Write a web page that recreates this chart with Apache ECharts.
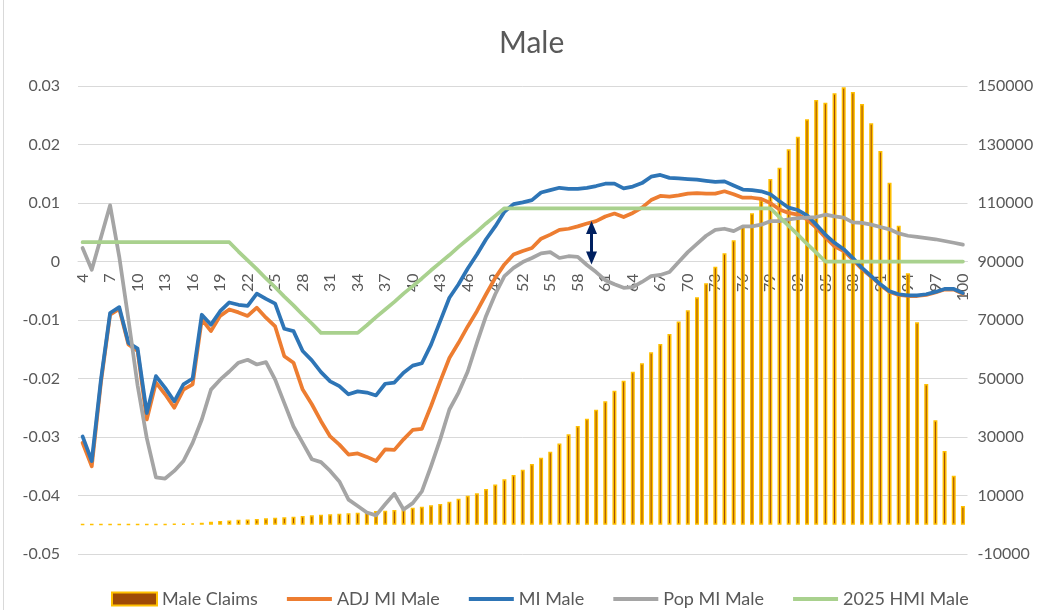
<!DOCTYPE html>
<html>
<head>
<meta charset="utf-8">
<title>Male</title>
<script src="https://cdn.jsdelivr.net/npm/echarts@6/dist/echarts.min.js"></script>
<style>
	html, body { margin: 0; padding: 0; background: #fff; }
	#chart { width: 1055px; height: 610px; }
</style>
</head>
<body>
<div id="chart"></div>
<script>
// ages on the x axis
let ages = [4, 5, 6, 7, 8, 9, 10, 11, 12, 13, 14, 15, 16, 17, 18, 19, 20, 21, 22, 23, 24, 25, 26, 27, 28, 29,
	30, 31, 32, 33, 34, 35, 36, 37, 38, 39, 40, 41, 42, 43, 44, 45, 46, 47, 48, 49, 50, 51, 52, 53, 54, 55,
	56, 57, 58, 59, 60, 61, 62, 63, 64, 65, 66, 67, 68, 69, 70, 71, 72, 73, 74, 75, 76, 77, 78, 79, 80, 81,
	82, 83, 84, 85, 86, 87, 88, 89, 90, 91, 92, 93, 94, 95, 96, 97, 98, 99, 100]

// Male Claims (right axis)
let maleClaims = [150, 150, 150, 150, 150, 150, 150, 150, 200, 250, 300,
	340, 460, 680, 1030, 1260, 1490, 1710, 1830, 1950, 2180, 2400, 2530, 2740, 2970, 3210, 3420, 3560, 3760,
	3900, 4100, 4340, 4680, 4790, 5030, 5260, 5810, 6150, 6630, 7080, 7860, 8900, 9920, 10730, 12200, 13800,
	15520, 17000, 18800, 20750, 22900, 24960, 27800, 30900, 33750, 36250, 39320, 42190, 45820, 49230, 52310,
	55180, 58940, 61780, 65200, 69500, 73300, 77750, 82530, 88200, 92780, 97230, 102230, 106470, 111020,
	118200, 122060, 128340, 132650, 138600, 145200, 144280, 147490, 149540, 147940, 143840, 137240, 127770,
	116930, 102230, 85950, 69200, 48100, 35690, 25200, 16750, 6390]

// ADJ MI Male
let adjMiMale = [-0.0310, -0.0350, -0.0207, -0.0091, -0.0081, -0.0142, -0.0153, -0.0270, -0.0207, -0.0227,
	-0.0250, -0.0219, -0.0210, -0.0099, -0.0119, -0.0093, -0.0082, -0.0087, -0.0093, -0.0079, -0.0096, -0.0111,
	-0.0162, -0.0173, -0.0219, -0.0244, -0.0273, -0.0299, -0.0313, -0.0330, -0.0328, -0.0334, -0.0341, -0.0321,
	-0.0322, -0.0304, -0.0288, -0.0286, -0.0247, -0.0205, -0.0165, -0.0139, -0.0111, -0.0085, -0.0056, -0.0028,
	-0.0005, 0.0012, 0.0018, 0.0023, 0.0039, 0.0046, 0.0054, 0.0056, 0.0060, 0.0065, 0.0069, 0.0077, 0.0082,
	0.0076, 0.0083, 0.0092, 0.0105, 0.0112, 0.0111, 0.0113, 0.0116, 0.0117, 0.0116, 0.0116, 0.0120, 0.0115,
	0.0109, 0.0109, 0.0107, 0.0100, 0.0089, 0.0083, 0.0080, 0.0072, 0.0058, 0.0041, 0.0026, 0.0018, 0.0003,
	-0.0013, -0.0026, -0.0040, -0.0052, -0.0057, -0.0059, -0.0059, -0.0057, -0.0053, -0.0048, -0.0048, -0.0055]

// MI Male
let miMale = [-0.0299, -0.0341, -0.0202, -0.0088, -0.0078, -0.0139, -0.0149, -0.0259, -0.0196, -0.0216,
	-0.0239, -0.0210, -0.0200, -0.0091, -0.0108, -0.0085, -0.0070, -0.0074, -0.0076, -0.0055, -0.0064, -0.0072,
	-0.0115, -0.0119, -0.0153, -0.0169, -0.0189, -0.0205, -0.0213, -0.0227, -0.0222, -0.0224, -0.0229, -0.0209,
	-0.0207, -0.0190, -0.0178, -0.0174, -0.0142, -0.0102, -0.0062, -0.0039, -0.0012, 0.0012, 0.0038, 0.0060,
	0.0085, 0.0098, 0.0101, 0.0105, 0.0118, 0.0122, 0.0126, 0.0124, 0.0124, 0.0126, 0.0129, 0.0133, 0.0133,
	0.0125, 0.0128, 0.0134, 0.0145, 0.0148, 0.0143, 0.0142, 0.0141, 0.0140, 0.0138, 0.0136, 0.0137, 0.0130,
	0.0123, 0.0122, 0.0120, 0.0115, 0.0103, 0.0092, 0.0088, 0.0079, 0.0063, 0.0046, 0.0032, 0.0021, 0.0006,
	-0.0011, -0.0025, -0.0039, -0.0051, -0.0056, -0.0058, -0.0058, -0.0056, -0.0052, -0.0047, -0.0047, -0.0054]

// Pop MI Male
let popMiMale = [0.0023, -0.0014, 0.0041, 0.0096, 0.0008, -0.0099, -0.0212, -0.0302, -0.0369, -0.0371,
	-0.0358, -0.0341, -0.0310, -0.0270, -0.0219, -0.0202, -0.0188, -0.0173, -0.0168, -0.0176, -0.0172, -0.0202,
	-0.0242, -0.0282, -0.0310, -0.0338, -0.0343, -0.0358, -0.0376, -0.0407, -0.0418, -0.0429, -0.0434, -0.0415,
	-0.0397, -0.0424, -0.0413, -0.0393, -0.0350, -0.0304, -0.0253, -0.0224, -0.0188, -0.0139, -0.0093, -0.0056,
	-0.0025, -0.0011, -0.0001, 0.0006, 0.0014, 0.0016, 0.0006, 0.0009, 0.0008, -0.0006, -0.0018, -0.0032,
	-0.0039, -0.0045, -0.0044, -0.0035, -0.0025, -0.0023, -0.0018, -0.0001, 0.0016, 0.0030, 0.0044, 0.0054,
	0.0056, 0.0052, 0.0060, 0.0060, 0.0063, 0.0069, 0.0069, 0.0072, 0.0074, 0.0075, 0.0076, 0.0080, 0.0077,
	0.0075, 0.0067, 0.0066, 0.0063, 0.0059, 0.0055, 0.0048, 0.0044, 0.0042, 0.0040, 0.0038, 0.0035, 0.0032, 0.0029]

// 2025 HMI Male
let hmiMale2025 = [0.0033, 0.0033, 0.0033, 0.0033, 0.0033, 0.0033, 0.0033, 0.0033, 0.0033, 0.0033, 0.0033,
	0.0033, 0.0033, 0.0033, 0.0033, 0.0033, 0.0033, 0.0017, 0.0002, -0.0013, -0.0029, -0.0044, -0.0060, -0.0075,
	-0.0091, -0.0106, -0.0122, -0.0122, -0.0122, -0.0122, -0.0122, -0.0109, -0.0095, -0.0082, -0.0069, -0.0055,
	-0.0042, -0.0029, -0.0015, -0.0002, 0.0011, 0.0025, 0.0038, 0.0051, 0.0065, 0.0078, 0.0091, 0.0091, 0.0091,
	0.0091, 0.0091, 0.0091, 0.0091, 0.0091, 0.0091, 0.0091, 0.0091, 0.0091, 0.0091, 0.0091, 0.0091, 0.0091,
	0.0091, 0.0091, 0.0091, 0.0091, 0.0091, 0.0091, 0.0091, 0.0091, 0.0091, 0.0091, 0.0091, 0.0091, 0.0091,
	0.0091, 0.0076, 0.0061, 0.0046, 0.0030, 0.0015, 0, 0, 0, 0, 0, 0, 0, 0, 0, 0, 0, 0, 0, 0, 0, 0]

// gap marker between ADJ MI and Pop MI
let arrowAge = [59.5]
let arrowEnds = [0.0058, 0.0006]

let leftTicks = { min: -0.05, max: 0.03, interval: 0.01 }
let rightTicks = { min: -10000, max: 150000, interval: 20000 }

let font = 'Lato'
let textColor = '#595959'
let gridColor = '#d9d9d9'

let gridTop = 86
let gridBottom = 56
let plotHeight = 610 - gridTop - gridBottom
// category labels hang from the zero line of the left axis
let zeroOffset = plotHeight * (0 - leftTicks.min) / (leftTicks.max - leftTicks.min)

// legend icon for the lines: a 4px stroke in a 45x13 box
let lineIcon = 'path://M0,0 L0.01,0 Z M0,4.5 L45,4.5 L45,8.5 L0,8.5 Z M0,13 L0.01,13 Z'

let lineSeries = (name, data, color) => {
	return {
		name: name,
		type: 'line',
		data: data,
		symbol: 'none',
		showSymbol: false,
		lineStyle: { color: color, width: 3.75, cap: 'round', join: 'round' },
		itemStyle: { color: color },
		xAxisIndex: 0,
		yAxisIndex: 0
	}
}

let chart = echarts.init(document.getElementById('chart'), null, { renderer: 'canvas' })

let opt = {
	backgroundColor: '#fff',
	animation: false,
	textStyle: { fontFamily: font },
	title: {
		text: 'Male',
		left: 494,
		top: 23,
		textStyle: { fontFamily: font, fontSize: 30, fontWeight: 'normal', color: textColor }
	},
	legend: {
		top: 585,
		left: 106,
		itemWidth: 45,
		itemHeight: 13,
		itemGap: 29,
		textStyle: { fontFamily: font, fontSize: 18, color: textColor },
		data: [
			{ name: 'Male Claims', icon: 'rect' },
			{ name: 'ADJ MI Male', icon: lineIcon },
			{ name: 'MI Male', icon: lineIcon },
			{ name: 'Pop MI Male', icon: lineIcon },
			{ name: '2025 HMI Male', icon: lineIcon }
		]
	},
	grid: {
		left: 78,
		right: 87.5,
		top: gridTop,
		bottom: gridBottom,
		containLabel: false
	},
	xAxis: [
		{
			type: 'category',
			data: ages,
			boundaryGap: true,
			position: 'bottom',
			offset: -zeroOffset,
			axisLine: { show: true, onZero: false, lineStyle: { color: gridColor, width: 1 } },
			axisTick: { show: false },
			axisLabel: {
				interval: 2,
				rotate: 90,
				margin: 12,
				fontFamily: font,
				fontSize: 16,
				color: textColor
			},
			splitLine: { show: false }
		},
		{
			type: 'value',
			min: 3.5,
			max: 100.5,
			show: false
		}
	],
	yAxis: [
		{
			type: 'value',
			min: leftTicks.min,
			max: leftTicks.max,
			interval: leftTicks.interval,
			axisLine: { show: false },
			axisTick: { show: false },
			axisLabel: {
				margin: 18,
				fontFamily: font,
				fontSize: 16,
				color: textColor,
				formatter: (v) => String(Math.round(v * 100) / 100)
			},
			splitLine: { show: true, lineStyle: { color: gridColor, width: 1 } }
		},
		{
			type: 'value',
			position: 'right',
			min: rightTicks.min,
			max: rightTicks.max,
			interval: rightTicks.interval,
			axisLine: { show: false },
			axisTick: { show: false },
			axisLabel: {
				margin: 10,
				fontFamily: font,
				fontSize: 16,
				color: textColor,
				formatter: (v) => String(v)
			},
			splitLine: { show: false }
		}
	],
	series: [
		{
			name: 'Male Claims',
			type: 'bar',
			data: maleClaims,
			xAxisIndex: 0,
			yAxisIndex: 1,
			barWidth: 4,
			itemStyle: { color: '#9e4a06', borderColor: '#ffc000', borderWidth: 1.5 }
		},
		lineSeries('ADJ MI Male', adjMiMale, '#ed7d31'),
		lineSeries('MI Male', miMale, '#2e75b6'),
		lineSeries('Pop MI Male', popMiMale, '#a5a5a5'),
		lineSeries('2025 HMI Male', hmiMale2025, '#a9d18e'),
		{
			name: 'gap',
			type: 'line',
			data: [],
			xAxisIndex: 1,
			yAxisIndex: 0,
			markLine: {
				silent: true,
				symbol: ['triangle', 'triangle'],
				symbolSize: [11, 13],
				label: { show: false },
				lineStyle: { color: '#002060', width: 3, type: 'solid' },
				data: [[
					{ coord: [arrowAge[0], arrowEnds[0]] },
					{ coord: [arrowAge[0], arrowEnds[1]] }
				]]
			}
		}
	],
	graphic: [
		{
			type: 'line',
			shape: { x1: 3.5, y1: 0, x2: 3.5, y2: 610 },
			style: { stroke: gridColor, lineWidth: 1 }
		}
	]
}

chart.setOption(opt, true)
</script>
</body>
</html>
